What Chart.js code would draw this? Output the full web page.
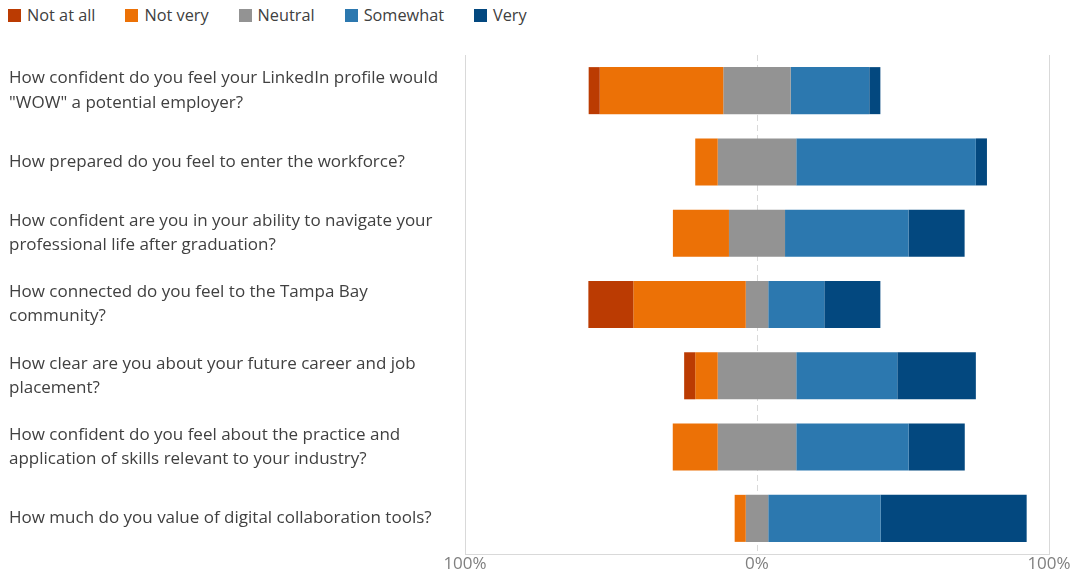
<!DOCTYPE html>
<html>
<head>
<meta charset="utf-8">
<script src="https://cdn.jsdelivr.net/npm/chart.js@4/dist/chart.umd.min.js"></script>
<style>
  body { margin: 0; background: #fff; font-family: "Open Sans", sans-serif; }
  #wrap { position: relative; width: 1077px; height: 575px; }
  #legend { position: absolute; left: 8px; top: 4px; display: flex; font-size: 16.3px; color: #404040; line-height: 23px; }
  #legend .item { display: flex; align-items: center; margin-right: 30px; }
  #legend .box { width: 13px; height: 13px; margin-right: 6px; }
  canvas { position: absolute; left: 0; top: 0; }
</style>
</head>
<body>
<div id="wrap">
  <div id="legend"></div>
  <canvas id="likert" width="1077" height="575"></canvas>
</div>
<script>
// survey questions (y axis)
var questions = [
  ['How confident do you feel your LinkedIn profile would', '"WOW" a potential employer?'],
  'How prepared do you feel to enter the workforce?',
  ['How confident are you in your ability to navigate your', 'professional life after graduation?'],
  ['How connected do you feel to the Tampa Bay', 'community?'],
  ['How clear are you about your future career and job', 'placement?'],
  ['How confident do you feel about the practice and', 'application of skills relevant to your industry?'],
  'How much do you value of digital collaboration tools?'
];

// answer shares in percent
var notAtAll = [3.8, 0, 0, 15.4, 3.8, 0, 0];
var notVery  = [42.3, 7.7, 19.2, 38.5, 7.7, 15.4, 3.8];
var neutral  = [23.1, 26.9, 19.2, 7.7, 26.9, 26.9, 7.7];
var somewhat = [26.9, 61.5, 42.3, 19.2, 34.6, 38.5, 38.5];
var very     = [3.8, 3.8, 19.2, 19.2, 26.9, 19.2, 50.0];

var answerNames = ['Not at all', 'Not very', 'Neutral', 'Somewhat', 'Very'];
var answerColors = ['#bb3b02', '#ec7106', '#939393', '#2c78af', '#03487f'];
var xTicks = [-100, 0, 100];

// neutral is split over zero, the rest stacks outward from it
var ranges = [[], [], [], [], []];
for (var i = 0; i < questions.length; i++) {
  var half = neutral[i] / 2;
  var a = -(half + notVery[i] + notAtAll[i]);
  var b = -(half + notVery[i]);
  var c = -half;
  var d = half;
  var e = half + somewhat[i];
  var f = e + very[i];
  ranges[0].push([a, b]);
  ranges[1].push([b, c]);
  ranges[2].push([c, d]);
  ranges[3].push([d, e]);
  ranges[4].push([e, f]);
}

var legendEl = document.getElementById('legend');
answerNames.forEach(function(name, k) {
  var item = document.createElement('div');
  item.className = 'item';
  var box = document.createElement('span');
  box.className = 'box';
  box.style.background = answerColors[k];
  var txt = document.createElement('span');
  txt.textContent = name;
  item.appendChild(box);
  item.appendChild(txt);
  legendEl.appendChild(item);
});

var zeroLine = {
  id: 'zeroLine',
  beforeDatasetsDraw: function(chart) {
    var x = chart.scales.x.getPixelForValue(0);
    var area = chart.chartArea;
    var ctx = chart.ctx;
    ctx.save();
    ctx.strokeStyle = '#d9d9d9';
    ctx.lineWidth = 1;
    ctx.setLineDash([6, 4]);
    ctx.beginPath();
    ctx.moveTo(Math.round(x) + 0.5, area.top);
    ctx.lineTo(Math.round(x) + 0.5, area.bottom);
    ctx.stroke();
    ctx.restore();
  }
};

var datasets = answerNames.map(function(name, k) {
  return {
    label: name,
    data: ranges[k],
    backgroundColor: answerColors[k],
    borderWidth: 0,
    borderSkipped: false,
    grouped: false,
    barPercentage: 0.66,
    categoryPercentage: 1
  };
});

new Chart(document.getElementById('likert'), {
  type: 'bar',
  data: { labels: questions, datasets: datasets },
  plugins: [zeroLine],
  options: {
    indexAxis: 'y',
    responsive: false,
    animation: false,
    layout: { padding: { left: 9, right: 28, top: 55, bottom: 0 } },
    plugins: {
      legend: { display: false },
      tooltip: {
        callbacks: {
          label: function(c) { return c.dataset.label + ': ' + (c.raw[1] - c.raw[0]).toFixed(1) + '%'; }
        }
      }
    },
    scales: {
      x: {
        min: -100,
        max: 100,
        afterBuildTicks: function(s) { s.ticks = xTicks.map(function(v) { return { value: v }; }); },
        afterFit: function(s) { s.height = 21; },
        grid: {
          color: function(c) { return c.tick && c.tick.value === 0 ? 'rgba(0,0,0,0)' : '#d9d9d9'; },
          drawTicks: false
        },
        border: { display: true, color: '#d9d9d9' },
        ticks: {
          padding: 0,
          color: '#7f7f7f',
          font: { family: 'Open Sans', size: 17 },
          callback: function(v) { return Math.abs(v) + '%'; }
        }
      },
      y: {
        afterFit: function(s) {
          s.width = 456;
          s.paddingTop = 0;
          s.paddingBottom = 0;
        },
        grid: { display: false },
        border: { display: false },
        ticks: {
          crossAlign: 'far',
          color: '#404040',
          font: { family: 'Open Sans', size: 17, lineHeight: 1.42 }
        }
      }
    }
  }
});
</script>
</body>
</html>
